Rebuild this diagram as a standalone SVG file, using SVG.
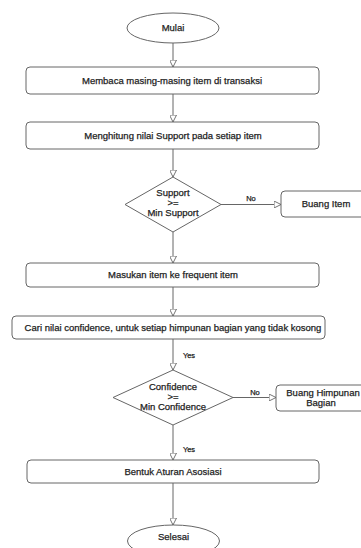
<svg xmlns="http://www.w3.org/2000/svg" width="361" height="548" viewBox="0 0 361 548">
<style>
.n{fill:#fff;stroke:#666;stroke-width:1}
.t{font-family:"Liberation Sans",Arial,sans-serif;font-size:9.5px;fill:#222;stroke:#222;stroke-width:0.25;text-anchor:middle}
.l{font-size:7.5px}
.c{fill:none;stroke:#666;stroke-width:1}
</style>
<defs>
<marker id="a" viewBox="0 0 10 10" refX="10" refY="5" markerWidth="7" markerHeight="7" markerUnits="userSpaceOnUse" orient="auto">
<path d="M0,0 L10,5 L0,10 Z" fill="#fff" stroke="#666" stroke-width="1.3"/>
</marker>
</defs>
<rect width="361" height="548" fill="#fff"/>
<g id="connectors">
<path class="c" d="M173,43 V67" marker-end="url(#a)"/>
<path class="c" d="M173,94 V122" marker-end="url(#a)"/>
<path class="c" d="M173,149 V177" marker-end="url(#a)"/>
<path class="c" d="M221,204.5 H281" marker-end="url(#a)"/>
<text class="t l" x="251" y="201">No</text>
<path class="c" d="M173,232 V263" marker-end="url(#a)"/>
<path class="c" d="M173,287 V316" marker-end="url(#a)"/>
<path class="c" d="M173,339 V370" marker-end="url(#a)"/>
<text class="t l" x="189" y="358">Yes</text>
<path class="c" d="M233,397.5 H276" marker-end="url(#a)"/>
<text class="t l" x="255" y="395">No</text>
<path class="c" d="M173,425 V460" marker-end="url(#a)"/>
<text class="t l" x="189" y="452">Yes</text>
<path class="c" d="M173,483 V525" marker-end="url(#a)"/>
</g>
<g id="mulai"><ellipse class="n" cx="173" cy="28" rx="46" ry="15"/><text class="t" x="173" y="31">Mulai</text></g>
<g id="membaca"><rect class="n" x="26" y="67" width="293" height="27" rx="4"/><text class="t" x="172" y="83.5">Membaca masing-masing item di transaksi</text></g>
<g id="menghitung"><rect class="n" x="26" y="122" width="293" height="27" rx="4"/><text class="t" x="173" y="138.5">Menghitung nilai Support pada setiap item</text></g>
<g id="cek-support"><path class="n" d="M173,177 L221,204.5 L173,232 L125,204.5 Z"/>
<text class="t" x="173" y="196">Support</text><text class="t" x="173" y="206">&gt;=</text><text class="t" x="173" y="216">Min Support</text></g>
<g id="buang-item"><rect class="n" x="281" y="191" width="90" height="26" rx="4"/><text class="t" x="326" y="207">Buang Item</text></g>
<g id="masukan"><rect class="n" x="26" y="263" width="293" height="24" rx="4"/><text class="t" x="173" y="278">Masukan item ke frequent item</text></g>
<g id="cari"><rect class="n" x="12" y="316" width="313" height="23" rx="4"/><text class="t" x="173" y="330.5">Cari nilai confidence, untuk setiap himpunan bagian yang tidak kosong</text></g>
<g id="cek-confidence"><path class="n" d="M173,370 L233,397.5 L173,425 L113,397.5 Z"/>
<text class="t" x="173" y="390">Confidence</text><text class="t" x="173" y="400">&gt;=</text><text class="t" x="173" y="410">Min Confidence</text></g>
<g id="buang-himpunan"><rect class="n" x="276" y="385" width="90" height="26" rx="4"/><text class="t" x="323" y="396">Buang Himpunan</text><text class="t" x="321" y="406">Bagian</text></g>
<g id="bentuk"><rect class="n" x="27" y="460" width="292" height="23" rx="4"/><text class="t" x="173" y="474.5">Bentuk Aturan Asosiasi</text></g>
<g id="selesai"><ellipse class="n" cx="173.5" cy="541" rx="46" ry="16"/><text class="t" x="173.5" y="540">Selesai</text></g>
</svg>
